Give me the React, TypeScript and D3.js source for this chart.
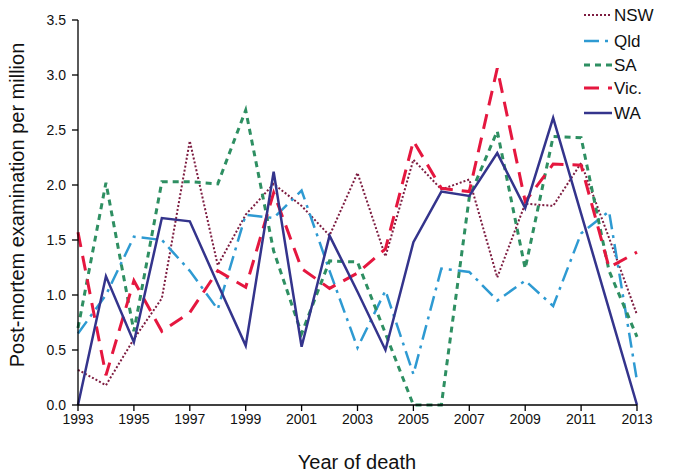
import React from "react";
import * as d3 from "d3";

const years = [1993, 1994, 1995, 1996, 1997, 1998, 1999, 2000, 2001, 2002, 2003, 2004, 2005, 2006, 2007, 2008, 2009, 2010, 2011, 2012, 2013];
const nsw = [0.32, 0.18, 0.6, 0.97, 2.4, 1.27, 1.73, 2.01, 1.81, 1.54, 2.11, 1.35, 2.23, 1.96, 2.05, 1.16, 1.83, 1.81, 2.2, 1.52, 0.82];
const qld = [0.65, 1.0, 1.53, 1.5, 1.22, 0.87, 1.73, 1.7, 1.95, 1.22, 0.52, 1.04, 0.28, 1.24, 1.21, 0.95, 1.13, 0.9, 1.56, 1.76, 0.22];
const sa = [0.7, 2.02, 0.67, 2.03, 2.03, 2.01, 2.68, 1.4, 0.65, 1.31, 1.3, 0.65, 0.0, 0.0, 1.89, 2.49, 1.24, 2.44, 2.43, 1.22, 0.62];
const vic = [1.57, 0.27, 1.13, 0.67, 0.84, 1.22, 1.07, 1.93, 1.24, 1.06, 1.2, 1.42, 2.4, 1.97, 1.94, 3.06, 1.85, 2.19, 2.18, 1.25, 1.39];
const wa = [0.0, 1.17, 0.57, 1.7, 1.67, 1.1, 0.54, 2.12, 0.53, 1.54, 1.03, 0.5, 1.48, 1.94, 1.9, 2.29, 1.79, 2.61, 1.74, 0.87, 0.0];

const xTicks = [1993, 1995, 1997, 1999, 2001, 2003, 2005, 2007, 2009, 2011, 2013];
const yTicks = [0, 0.5, 1.0, 1.5, 2.0, 2.5, 3.0, 3.5];

const seriesNames = ["NSW", "Qld", "SA", "Vic.", "WA"];
const seriesValues = [nsw, qld, sa, vic, wa];

const styles = [
  { color: "#7d1c40", width: 2, dash: "2,2" },
  { color: "#2e9ad2", width: 2.5, dash: "15,6,3,6" },
  { color: "#2e8f62", width: 3, dash: "6,5" },
  { color: "#e5173f", width: 3, dash: "15,9" },
  { color: "#34348c", width: 2.5, dash: "" },
];

const FONT = "'Liberation Sans', Arial, sans-serif";

export default function App() {
  const x = d3.scaleLinear().domain([1993, 2013]).range([78, 637]);
  const y = d3.scaleLinear().domain([0, 3.5]).range([405, 20]);

  const lines = seriesValues.map((vals) =>
    d3
      .line<number>()
      .x((_, i) => x(years[i]))
      .y((d) => y(d))(vals) as string
  );

  const legendY = [15, 41, 65, 88, 113];
  const lx0 = 584;
  const lx1 = 612;

  return (
    <svg
      width={674}
      height={476}
      style={{ position: "absolute", left: 0, top: 0, background: "#fff" }}
      fontFamily={FONT}
    >
      <rect width={674} height={476} fill="#fff" />
      {/* lines */}
      {lines.map((d, i) => (
        <path
          key={i}
          d={d}
          fill="none"
          stroke={styles[i].color}
          strokeWidth={styles[i].width}
          strokeDasharray={styles[i].dash || undefined}
          strokeLinejoin="miter"
        />
      ))}
      {/* axes */}
      <line x1={78} x2={78} y1={y(3.5)} y2={y(0)} stroke="#000" strokeWidth={1.3} />
      <line x1={78} x2={637} y1={y(0)} y2={y(0)} stroke="#000" strokeWidth={1.3} />
      {yTicks.map((t) => (
        <g key={t}>
          <line x1={72} x2={78} y1={y(t)} y2={y(t)} stroke="#000" strokeWidth={1.3} />
          <text x={66} y={y(t)} dy="0.35em" textAnchor="end" fontSize={14} fill="#111">
            {t.toFixed(1)}
          </text>
        </g>
      ))}
      {xTicks.map((t) => (
        <g key={t}>
          <line x1={x(t)} x2={x(t)} y1={y(0)} y2={y(0) + 6} stroke="#000" strokeWidth={1.3} />
          <text x={x(t)} y={y(0) + 19} textAnchor="middle" fontSize={14} fill="#111">
            {t}
          </text>
        </g>
      ))}
      <text
        transform={`translate(24,205) rotate(-90)`}
        textAnchor="middle"
        fontSize={20}
        fill="#111"
      >
        Post-mortem examination per million
      </text>
      <text x={357} y={469} textAnchor="middle" fontSize={20} fill="#111">
        Year of death
      </text>
      {/* legend */}
      {seriesNames.map((n, i) => (
        <g key={n}>
          <line
            x1={lx0}
            x2={lx1}
            y1={legendY[i]}
            y2={legendY[i]}
            stroke={styles[i].color}
            strokeWidth={styles[i].width}
            strokeDasharray={styles[i].dash || undefined}
          />
          <text x={lx1 + 2} y={legendY[i]} dy="0.36em" fontSize={17} fill="#111">
            {n}
          </text>
        </g>
      ))}
    </svg>
  );
}
